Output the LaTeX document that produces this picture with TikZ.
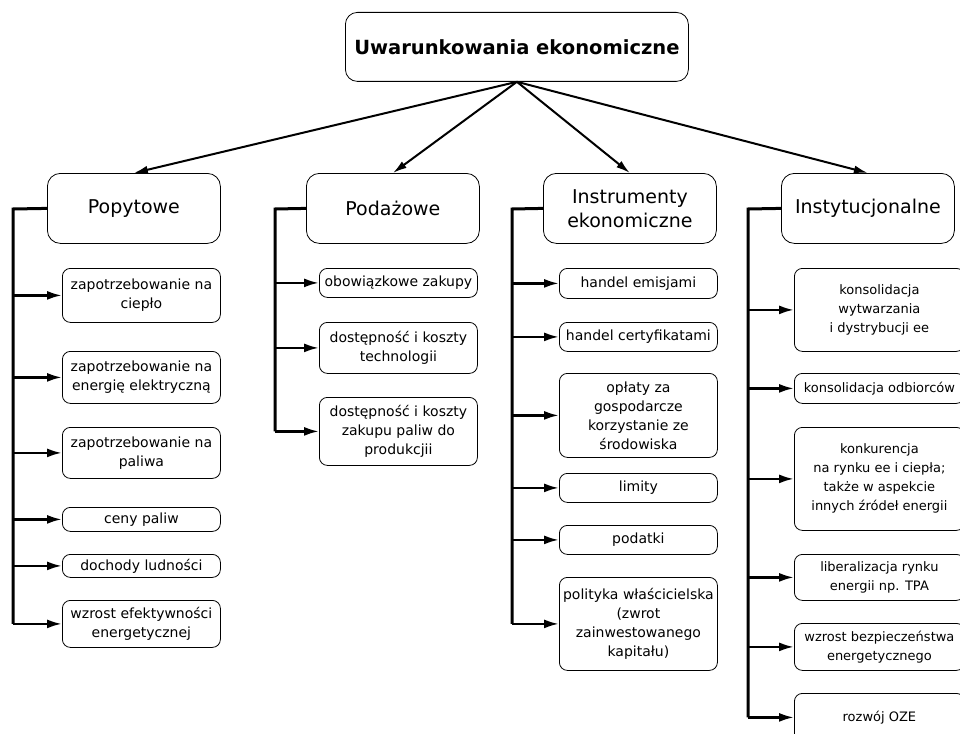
\documentclass[tikz,border=0pt]{standalone}
\usepackage{fontspec}
\setmainfont{DejaVu Sans}
\usetikzlibrary{arrows.meta}

\tikzset{
	box/.style={draw, line width=0.8pt, rounded corners=8pt, align=center, anchor=north west, inner sep=0pt},
	head/.style={box, rounded corners=13pt, minimum width=173, minimum height=70, font=\fontsize{19}{24}\selectfont},
	leaf/.style={box, minimum width=158, font=\fontsize{14}{19}\selectfont},
	wide/.style={leaf, minimum width=170, font=\fontsize{13}{19}\selectfont},
	main/.style={line width=2pt, -{Latex[length=14pt,width=8pt]}},
	trunk/.style={line width=3pt},
	branch/.style={line width=2.4pt, -{Latex[length=15pt,width=9pt]}}
}

\begin{document}
\begin{tikzpicture}[x=1pt, y=-1pt]
	\useasboundingbox (0,0) rectangle (960,733);

	\node[box, rounded corners=12pt, minimum width=343, minimum height=69, font=\bfseries\fontsize{19.5}{23}\selectfont] (top) at (345,12) {Uwarunkowania ekonomiczne};

	\node[head] (pop) at (47,173) {Popytowe};
	\node[head] (pod) at (306,173) {Podażowe};
	\node[head] (ins) at (543,173) {Instrumenty\\ekonomiczne};
	\node[head] (inst) at (781,173) {Instytucjonalne};

	\foreach \h in {pop,pod,ins,inst}
		\draw[main] (top.south) -- (\h.north);

	% popytowe
	\node[leaf, minimum height=54] (p1) at (62,268) {zapotrzebowanie na\\ciepło};
	\node[leaf, minimum height=52] (p2) at (62,351) {zapotrzebowanie na\\energię elektryczną};
	\node[leaf, minimum height=51] (p3) at (62,427) {zapotrzebowanie na\\paliwa};
	\node[leaf, minimum height=24] (p4) at (62,507) {ceny paliw};
	\node[leaf, minimum height=23] (p5) at (62,554) {dochody ludności};
	\node[leaf, minimum height=47] (p6) at (62,600) {wzrost efektywności\\energetycznej};

	% podazowe
	\node[leaf, minimum height=29] (s1) at (319,268) {obowiązkowe zakupy};
	\node[leaf, minimum height=51] (s2) at (319,322) {dostępność i koszty\\technologii};
	\node[leaf, minimum height=68] (s3) at (319,397) {dostępność i koszty\\zakupu paliw do\\produkcjii};

	% instrumenty
	\node[leaf, minimum height=30] (i1) at (559,268) {handel emisjami};
	\node[leaf, minimum height=29] (i2) at (559,322) {handel certyfikatami};
	\node[leaf, minimum height=84] (i3) at (559,373) {opłaty za\\gospodarcze\\korzystanie ze\\środowiska};
	\node[leaf, minimum height=29] (i4) at (559,473) {limity};
	\node[leaf, minimum height=29] (i5) at (559,525) {podatki};
	\node[leaf, minimum height=93] (i6) at (559,577) {polityka właścicielska\\(zwrot\\zainwestowanego\\kapitału)};

	% instytucjonalne
	\node[wide, minimum height=83] (n1) at (794,268) {konsolidacja\\wytwarzania\\i dystrybucji ee};
	\node[wide, minimum height=30] (n2) at (794,373) {konsolidacja odbiorców};
	\node[wide, minimum height=103] (n3) at (794,427) {konkurencja\\na rynku ee i ciepła;\\także w aspekcie\\innych źródeł energii};
	\node[wide, minimum height=46] (n4) at (794,554) {liberalizacja rynku\\energii np. TPA};
	\node[wide, minimum height=47] (n5) at (794,623) {wzrost bezpieczeństwa\\energetycznego};
	\node[wide, minimum height=48] (n6) at (794,693) {rozwój OZE};

	\coordinate (popbus) at (13,209);
	\coordinate (podbus) at (275,209);
	\coordinate (insbus) at (512,209);
	\coordinate (instbus) at (748,209);

	\draw[trunk] (pop.west) -- (popbus) -- (popbus |- p6.west);
	\draw[trunk] (pod.west) -- (podbus) -- (podbus |- s3.west);
	\draw[trunk] (ins.west) -- (insbus) -- (insbus |- i6.west);
	\draw[trunk] (inst.west) -- (instbus) -- (instbus |- n6.west);

	\foreach \c in {p1,p2,p3,p4,p5,p6}
		\draw[branch] (popbus |- \c.west) -- (\c.west);
	\foreach \c in {s1,s2,s3}
		\draw[branch] (podbus |- \c.west) -- (\c.west);
	\foreach \c in {i1,i2,i3,i4,i5,i6}
		\draw[branch] (insbus |- \c.west) -- (\c.west);
	\foreach \c in {n1,n2,n3,n4,n5,n6}
		\draw[branch] (instbus |- \c.west) -- (\c.west);
\end{tikzpicture}
\end{document}
